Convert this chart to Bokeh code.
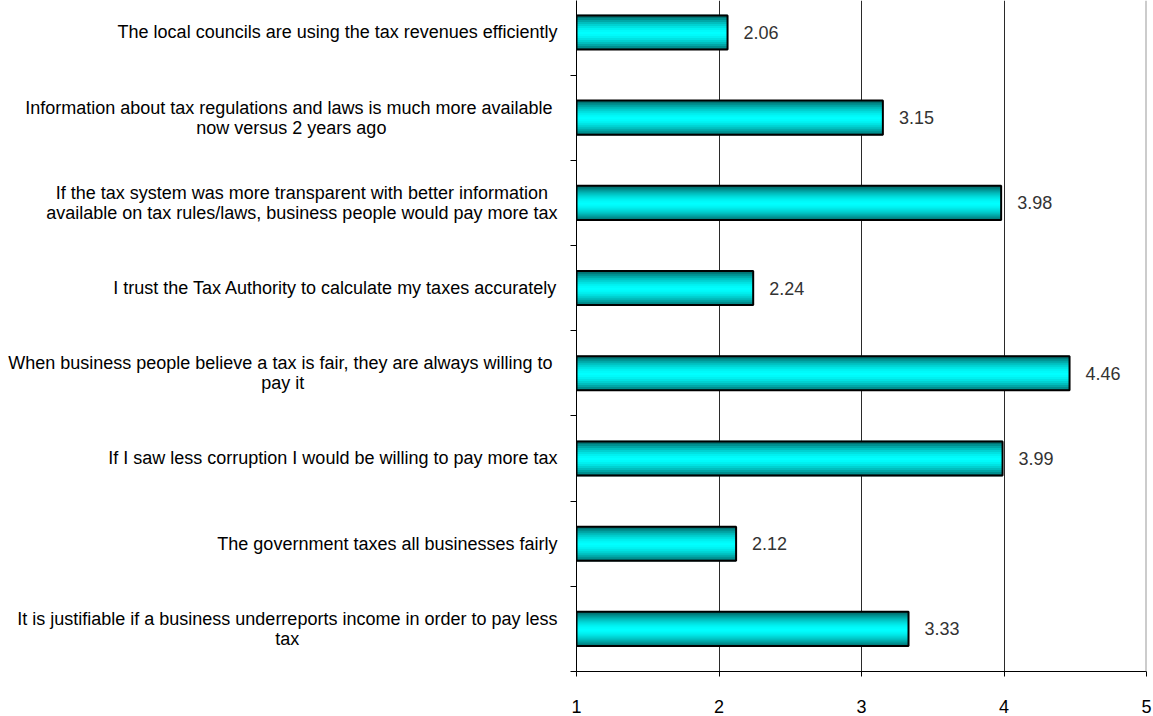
from bokeh.plotting import figure
from bokeh.models import Range1d, FixedTicker, Span, ColumnDataSource
from bokeh.layouts import row
from bokeh.embed import file_html
from bokeh.resources import INLINE
from bokeh.core.properties import value

statements = [
    "The local councils are using the tax revenues efficiently",
    "Information about tax regulations  and laws is much more available\nnow versus 2 years ago",
    "If the tax system was more transparent with better information\navailable on tax rules/laws, business people would pay more tax",
    "I trust the Tax Authority to calculate my taxes accurately",
    "When business  people believe a tax is fair, they are always willing to\npay it",
    "If I saw less corruption I would be willing to pay more tax",
    "The government taxes all businesses fairly",
    "It is justifiable if a business underreports income in order to pay less\ntax",
]
scores = [2.06, 3.15, 3.98, 2.24, 4.46, 3.99, 2.12, 3.33]
x_ticks = [1, 2, 3, 4, 5]

FONT = "Liberation Sans"
n = len(statements)
centers = [n - 0.5 - i for i in range(n)]
bar_h = 0.4
H = 715
yr = Range1d(0, 7.875)

# ---- label panel ----
lw = 560
lp = figure(width=lw, height=H, output_backend="svg", toolbar_location=None,
            x_range=Range1d(0, 1), y_range=yr,
            min_border_left=0, min_border_right=0, min_border_top=0, min_border_bottom=40)
lp.outline_line_color = None
lp.axis.visible = False
lp.grid.visible = False
lsrc = ColumnDataSource(dict(x=[1] * n, y=centers, t=statements))
lp.text(x="x", y="y", text="t", source=lsrc, x_offset=-3,
        text_align="center", anchor="center_right", text_baseline="middle",
        text_font=value(FONT), text_font_size="18px", text_color="black",
        text_line_height=1.0)

# ---- chart panel ----
p = figure(width=1153 - lw, height=H, output_backend="svg", toolbar_location=None,
           x_range=Range1d(1, 5), y_range=yr,
           min_border_left=576 - lw, min_border_right=7, min_border_top=0, min_border_bottom=40)
p.outline_line_color = None

p.ygrid.visible = False
p.xgrid.ticker = FixedTicker(ticks=[2, 3, 4])
p.xgrid.grid_line_color = "#2a2a2a"
p.xgrid.grid_line_width = 1
p.add_layout(Span(location=5, dimension="height", line_color="#9a9a9a", line_width=2))

nstrip = 17
sh = bar_h / nstrip
for k in range(nstrip):
    t = (k + 0.5) / nstrip
    d = abs(t - 0.5) * 2
    f = 1 - 0.6 * d ** 1.6
    g = int(round(255 * f))
    col = "#00%02x%02x" % (g, g)
    off = -bar_h / 2 + (k + 0.5) * sh
    src = ColumnDataSource(dict(y=[c + off for c in centers], right=scores, left=[1] * n))
    p.hbar(y="y", left="left", right="right", height=sh * 1.6, source=src,
           fill_color=col, line_color=None)

src_out = ColumnDataSource(dict(y=centers, right=scores, left=[1] * n,
                                lab=["%.2f" % s for s in scores]))
p.hbar(y="y", left="left", right="right", height=bar_h, source=src_out,
       fill_color=None, line_color="black", line_width=2)

p.text(x="right", y="y", text="lab", source=src_out, x_offset=16,
       text_align="left", text_baseline="middle", text_font=value(FONT),
       text_font_size="18px", text_color="#333333")

p.xaxis.ticker = FixedTicker(ticks=x_ticks)
p.xaxis.axis_line_color = "black"
p.xaxis.major_tick_in = 0
p.xaxis.major_tick_out = 5
p.xaxis.minor_tick_line_color = None
p.xaxis.major_label_standoff = 23
p.xaxis.major_label_text_font = FONT
p.xaxis.major_label_text_font_size = "18px"
p.xaxis.major_label_text_color = "black"

yt = list(range(0, n))
p.yaxis.ticker = FixedTicker(ticks=yt)
p.yaxis.axis_line_color = "black"
p.yaxis.major_tick_in = 0
p.yaxis.major_tick_out = 6
p.yaxis.minor_tick_line_color = None
p.yaxis.major_label_overrides = {t: "" for t in yt}
p.yaxis.major_label_standoff = 0

layout = row(lp, p)
open("out.html", "w").write(file_html(layout, INLINE))
